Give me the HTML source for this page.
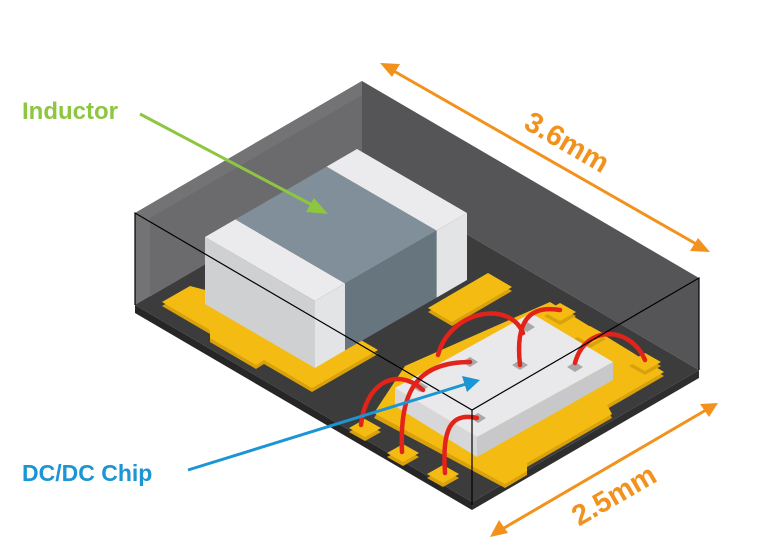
<!DOCTYPE html>
<html><head><meta charset="utf-8"><style>
html,body{margin:0;padding:0;background:#fff;}
svg{display:block;}
text{font-family:"Liberation Sans",sans-serif;font-weight:bold;}
</style></head><body>
<svg width="777" height="558" viewBox="0 0 777 558" xmlns="http://www.w3.org/2000/svg">
<polygon points="135,213 362,81 362,173 135,305" fill="#6b6b6d"/>
<polygon points="135,213 362,81 362,95 150,218 150,300 135,305" fill="#737375"/>
<polygon points="362,81 699,278 699,370 362,173" fill="#555557"/>
<polygon points="135,305 362,173 699,370 472,502" fill="#3c3c3d"/>
<polygon points="135,305 472,502 472,510 135,313" fill="#262627"/>
<polygon points="472,502 699,370 699,378 472,510" fill="#2e2e2f"/>
<polygon points="190,290 162,306 210,334 210,342 256,369 264,364 312,392 378,354 330,326" fill="#d9a20c"/>
<polygon points="190,286 162,302 210,330 210,338 256,365 264,360 312,388 378,350 330,322" fill="#f4bc12"/>
<polygon points="428,312 452,326 512,291 488,277" fill="#d9a20c"/>
<polygon points="428,308 452,322 512,287 488,273" fill="#f4bc12"/>
<polygon points="205,237 315,301 315,368 205,304" fill="#cfd0d2"/>
<polygon points="315,301 345,283.4 345,350.4 315,368" fill="#e3e4e6"/>
<polygon points="345,283.4 436.6,230.6 436.6,297.6 345,350.4" fill="#66757e"/>
<polygon points="436.6,230.6 467,213 467,280 436.6,297.6" fill="#e3e4e6"/>
<polygon points="205,237 315,301 345,283.4 235.4,219.4" fill="#ebebed"/>
<polygon points="235.4,219.4 345,283.4 436.6,230.6 326.6,166.6" fill="#808f99"/>
<polygon points="326.6,166.6 436.6,230.6 467,213 357,149" fill="#ebebed"/>
<!-- chip pad -->
<polygon points="374,418 405,370 550,306 664,376 607,409 612,418 527,467 527,475 505,488 374,418" fill="#d9a20c"/>
<polygon points="374,413 405,366 550,302 664,372 607,405 612,414 527,463 527,471 505,484" fill="#f4bc12"/>
<g fill="#d9a20c">
<polygon points="349,432 365,423 381,432 365,441"/>
<polygon points="387,457 403,448 419,457 403,466"/>
<polygon points="427,478 443,469 459,478 443,487"/>
<polygon points="544,316 560,307 576,316 560,325"/>
<polygon points="574,339 590,330 606,339 590,348"/>
<polygon points="629,366 645,357 661,366 645,375"/>
</g>
<g fill="#f4bc12">
<polygon points="349,428 365,419 381,428 365,437"/>
<polygon points="387,453 403,444 419,453 403,462"/>
<polygon points="427,474 443,465 459,474 443,483"/>
<polygon points="544,312 560,303 576,312 560,321"/>
<polygon points="574,335 590,326 606,335 590,344"/>
<polygon points="629,362 645,353 661,362 645,371"/>
</g>
<polygon points="395,388 477,437 477,457 395,406" fill="#d7d7d9"/>
<polygon points="477,437 613,362 613,380 477,457" fill="#c8c8ca"/>
<polygon points="395,388 477,437 613,362 531,313" fill="#e9e9eb"/>
<g fill="#a8a8aa">
<polygon points="462,362 470,357 478,362 470,367"/>
<polygon points="512,365 520,360 528,365 520,370"/>
<polygon points="567,367 575,362 583,367 575,372"/>
<polygon points="519,327 527,322 535,327 527,332"/>
<polygon points="470,418 478,413 486,418 478,423"/>
<polygon points="412,387 420,382 428,387 420,392"/>
</g>
<g fill="none" stroke="#e2231a" stroke-width="4.5" stroke-linecap="round">
<path d="M361,425 C365,385 395,365 423,390"/>
<path d="M402,452 C400,400 410,362 470,362"/>
<path d="M445,473 C442,430 450,412 477,418"/>
<path d="M438,355 C450,310 510,300 523,333"/>
<path d="M520,365 C515,320 530,305 560,310"/>
<path d="M575,363 C585,325 630,325 645,360"/>
</g>
<g stroke="#000" stroke-width="1.2" fill="none">
<polyline points="135,305 135,213 472,410 699,278 699,370"/>
<line x1="472" y1="410" x2="472" y2="505"/>
</g>
<line x1="140" y1="114" x2="314" y2="206" stroke="#8dc63f" stroke-width="3"/>
<polygon points="328,214 306,212 314,198" fill="#8dc63f"/>
<line x1="188" y1="470" x2="466" y2="384" stroke="#1b95d3" stroke-width="3"/>
<polygon points="480,380 462,376 467,392" fill="#1b95d3"/>
<g stroke="#f2921d" stroke-width="3">
<line x1="392" y1="70" x2="698" y2="245"/>
<line x1="504" y1="528" x2="706" y2="410"/>
</g>
<g fill="#f2921d">
<polygon points="380,63 400,64 392,77"/>
<polygon points="710,252 690,251 698,238"/>
<polygon points="490,537 499,520 508,533"/>
<polygon points="718,403 700,404 709,417"/>
</g>
<text x="22" y="119" font-size="24" fill="#8dc63f">Inductor</text>
<text x="22" y="481" font-size="23" fill="#1b95d3">DC/DC Chip</text>
<text x="566" y="144" font-size="29" fill="#f2921d" text-anchor="middle" dominant-baseline="middle" transform="rotate(30 566 144)">3.6mm</text>
<text x="615" y="497" font-size="29" fill="#f2921d" text-anchor="middle" dominant-baseline="middle" transform="rotate(-30 615 497)">2.5mm</text>
</svg>
</body></html>
